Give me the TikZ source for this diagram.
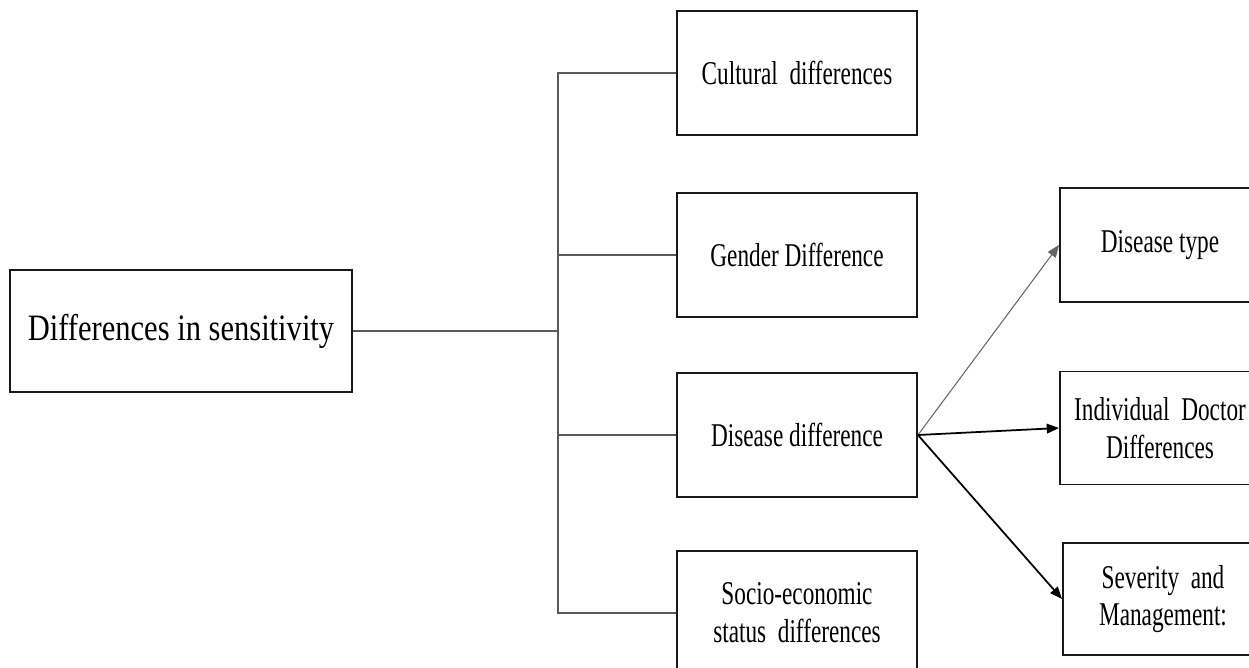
\documentclass[tikz,border=0pt]{standalone}
\usepackage{fontspec}
\setmainfont{Liberation Serif}[FakeStretch=0.70]
\newfontfamily\rootfont{Liberation Serif}[FakeStretch=0.82]
\usetikzlibrary{arrows.meta}

\begin{document}
\begin{tikzpicture}[x=0.02cm,y=-0.02cm]
\tikzstyle{every node}+=[inner sep=0pt]
\tikzstyle{box}=[draw=black!90, line width=1.1pt, align=center, font=\fontsize{18.9}{21.5}\selectfont]
\tikzstyle{twig}=[draw=black!65, line width=0.6pt]
\tikzstyle{arr}=[draw=black, line width=1pt, -{Triangle[length=7pt,width=5.5pt]}]
\useasboundingbox (0,0) rectangle (1249,667);
% root
\node [box, minimum width=6.84cm, minimum height=2.44cm, font=\rootfont\fontsize{21.2}{25}\selectfont] (sens) at (181,331) {Differences in sensitivity};
% kinds of difference
\node [box, minimum width=4.8cm, minimum height=2.48cm] (cult) at (797,73) {Cultural\ \ differences};
\node [box, minimum width=4.8cm, minimum height=2.48cm] (gend) at (797,255) {Gender Difference};
\node [box, minimum width=4.8cm, minimum height=2.48cm] (dis) at (797,435) {Disease difference};
\node [box, minimum width=4.8cm, minimum height=2.48cm] (socio) at (797,613) {Socio-economic\\status\ \ differences};
% disease details
\node [box, minimum width=4cm, minimum height=2.28cm] (dtype) at (1160,245) {Disease type};
\node [box, minimum width=4cm, minimum height=2.26cm] (indiv) at (1160,428) {Individual\ \ Doctor\\Differences};
\node [box, minimum width=4cm, minimum height=2.24cm] (sev) at (1163,599) {Severity\ \ and\\Management:};
\coordinate (jn) at (558,331);
\draw [twig] (sens.east) -- (jn);
\draw [twig] (cult.west) -- (cult.west -| jn) -- (socio.west -| jn) -- (socio.west);
\draw [twig] (gend.west) -- (gend.west -| jn);
\draw [twig] (dis.west) -- (dis.west -| jn);
\draw [arr, draw=black!60, line width=0.6pt] (dis.east) -- (dtype.west);
\draw [arr] (dis.east) -- (indiv.west);
\draw [arr] (dis.east) -- (sev.west);
\end{tikzpicture}
\end{document}
